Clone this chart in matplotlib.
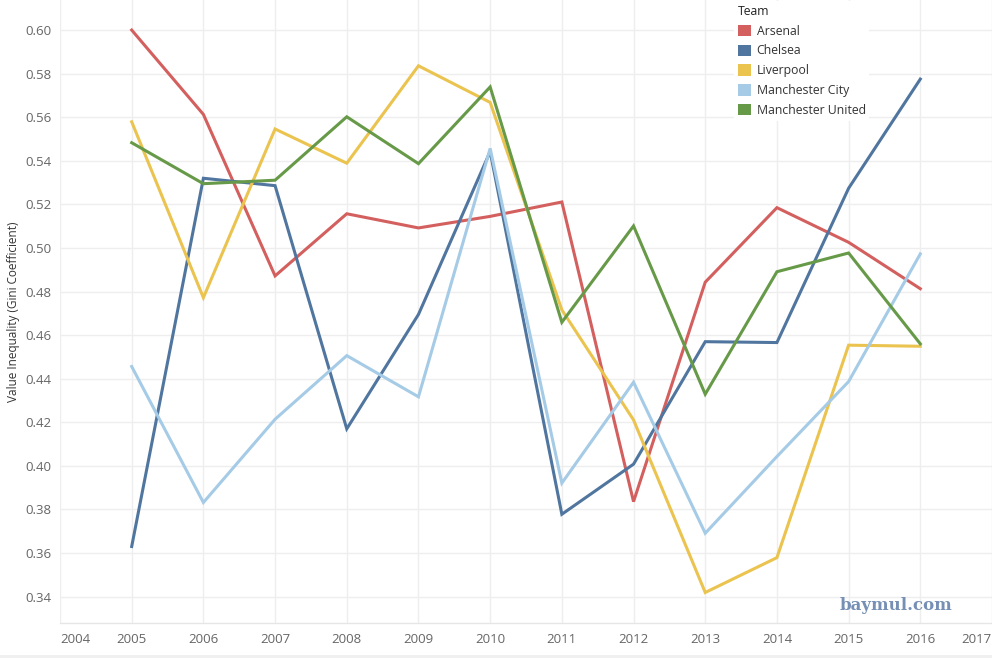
import matplotlib
matplotlib.use("Agg")
import matplotlib.pyplot as plt
from matplotlib.patches import Patch, Rectangle

years = [2005, 2006, 2007, 2008, 2009, 2010, 2011, 2012, 2013, 2014, 2015, 2016]
teams = ["Arsenal", "Chelsea", "Liverpool", "Manchester City", "Manchester United"]
arsenal = [0.600, 0.5613, 0.4872, 0.5157, 0.5092, 0.5145, 0.5211, 0.3836, 0.4843, 0.5185, 0.5026, 0.4813]
chelsea = [0.3630, 0.5320, 0.5286, 0.4170, 0.4695, 0.5442, 0.3778, 0.4008, 0.4570, 0.4566, 0.5274, 0.5775]
liverpool = [0.5579, 0.4772, 0.5546, 0.5389, 0.5836, 0.5668, 0.4716, 0.4211, 0.3419, 0.3579, 0.4554, 0.4549]
man_city = [0.4456, 0.3832, 0.4214, 0.4506, 0.4317, 0.5457, 0.3921, 0.4384, 0.3691, 0.4043, 0.4387, 0.4973]
man_utd = [0.5483, 0.5295, 0.5311, 0.5602, 0.5387, 0.5739, 0.4659, 0.5101, 0.4329, 0.4891, 0.4977, 0.4560]
series = [arsenal, chelsea, liverpool, man_city, man_utd]
colors = ["#D3605E", "#50769F", "#EBC34F", "#A5CBE6", "#679A48"]
y_ticks = [0.34, 0.36, 0.38, 0.40, 0.42, 0.44, 0.46, 0.48, 0.50, 0.52, 0.54, 0.56, 0.58, 0.60]
x_ticks = list(range(2004, 2018))

plt.rcParams['font.family'] = ['Open Sans', 'DejaVu Sans']

W, H = 992, 658
fig = plt.figure(figsize=(W / 100, H / 100), dpi=100)
ax = fig.add_axes([60 / W, (H - 623) / H, (W - 60) / W, 623 / H])

for vals, c, name in zip(series, colors, teams):
    ax.plot(years, vals, color=c, lw=2.2, solid_joinstyle='miter', label=name, zorder=3)

ax.set_xlim(2004, 2017)
ax.set_ylim(0.3279, 0.6138)
ax.set_yticks(y_ticks)
ax.set_yticklabels([f"{v:.2f}" for v in y_ticks])
ax.set_xticks(x_ticks)
ax.set_xticklabels([str(x) for x in x_ticks])
labels = ax.get_xticklabels()
labels[0].set_horizontalalignment('left')
labels[-1].set_horizontalalignment('right')

ax.grid(True, color="#EEEEEE", lw=1.0, zorder=0)
ax.set_axisbelow(True)
for s in ['top', 'right', 'left']:
    ax.spines[s].set_visible(False)
ax.spines['bottom'].set_color("#E6E6E6")
ax.spines['bottom'].set_linewidth(1.0)
ax.tick_params(axis='both', length=0, labelsize=9.5, labelcolor="#666666")
ax.tick_params(axis='y', pad=6)
ax.tick_params(axis='x', pad=7)

ax.set_ylabel("Value Inequality (Gini Coefficient)", fontsize=8.5, color="#333333")
ax.yaxis.set_label_coords(-40 / (W - 60), 0.5)

handles = [Patch(facecolor=c, edgecolor='none') for c in colors]
leg = fig.legend(handles, teams, title="Team", loc='upper left',
                 bbox_to_anchor=(734 / W, 1 - 1 / H), frameon=True, fontsize=8.8,
                 title_fontsize=8.8, handlelength=1.05, handleheight=1.05,
                 handletextpad=0.5, labelspacing=0.56, borderpad=0.3,
                 alignment='left', borderaxespad=0)
leg.get_frame().set_facecolor('white')
leg.get_frame().set_edgecolor('none')
leg.get_frame().set_alpha(1)
for t in leg.get_texts():
    t.set_color("#333333")
leg.get_title().set_color("#222222")

ax.text(2015.66, 0.336, "baymul.com", fontsize=12, fontweight='bold',
        family='DejaVu Serif', color="#7690B5", ha='center', va='center', zorder=4)

fig.patches.append(Rectangle((0, 0), 1, 3 / H, transform=fig.transFigure,
                             facecolor="#F0F0F0", edgecolor='none'))

fig.savefig("out.png", dpi=100)
